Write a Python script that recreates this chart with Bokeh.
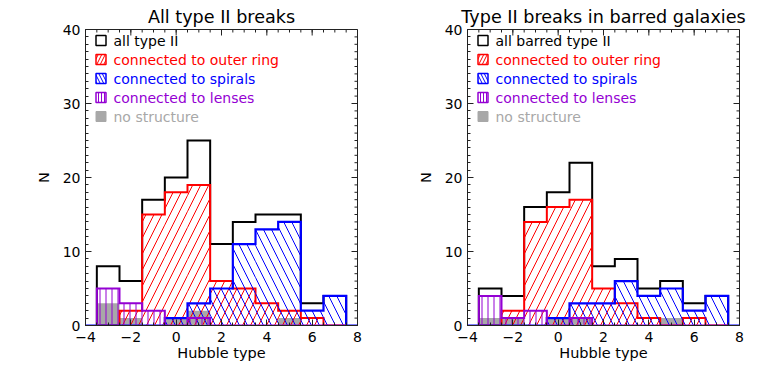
from bokeh.plotting import figure
from bokeh.layouts import row
from bokeh.models import Range1d, FixedTicker
from bokeh.embed import file_html
from bokeh.resources import INLINE
from bokeh.core.properties import value

# ---------------- data ----------------
hubble_type = [-3, -2, -1, 0, 1, 2, 3, 4, 5, 6, 7]
bin_width = 1.0

all_left = [8, 6, 17, 20, 25, 11, 14, 15, 15, 3, 4]
ring_left = [0, 2, 15, 18, 19, 6, 5, 3, 2, 1, 0]
spiral_left = [0, 0, 0, 1, 3, 5, 11, 13, 14, 2, 4]
lens_left = [5, 3, 2, 0, 1, 0, 0, 0, 0, 0, 0]
none_left = [3, 1, 0, 1, 2, 0, 0, 0, 1, 0, 0]

all_right = [5, 4, 16, 18, 22, 8, 9, 5, 6, 3, 4]
ring_right = [0, 2, 14, 16, 17, 5, 3, 1, 0, 1, 0]
spiral_right = [0, 0, 0, 1, 3, 3, 6, 4, 5, 2, 4]
lens_right = [4, 1, 2, 0, 1, 0, 0, 0, 0, 0, 0]
none_right = [1, 1, 0, 1, 1, 0, 0, 0, 1, 0, 0]

x_ticks = [-4, -2, 0, 2, 4, 6, 8]
x_minor = [-4 + 0.5 * i for i in range(25)]
y_ticks = [0, 10, 20, 30, 40]
y_minor = list(range(0, 41))

titles = ["All type II breaks", "Type II breaks in barred galaxies"]
legend_left = ["all type II", "connected to outer ring", "connected to spirals",
               "connected to lenses", "no structure"]
legend_right = ["all barred type II", "connected to outer ring", "connected to spirals",
                "connected to lenses", "no structure"]

# ---------------- style ----------------
FONT = "DejaVu Sans"
RED = "#ff0000"
BLUE = "#0000ff"
PURPLE = "#9400d3"
GRAY = "#a8a8a8"
XR = (-4, 8)
YR = (0, 40)
FW, FH = 272, 296
MAJ_LEN, MIN_LEN = 6, 3


def step_outline(centers, counts, x_from=None, x_to=None):
    edges = [c - bin_width / 2 for c in centers] + [centers[-1] + bin_width / 2]
    xs, ys = [edges[0]], [0]
    for i, c in enumerate(counts):
        xs += [edges[i], edges[i + 1]]
        ys += [c, c]
    xs.append(edges[-1])
    ys.append(0)
    if x_from is not None:
        xs.insert(0, x_from)
        ys.insert(0, 0)
    if x_to is not None:
        xs.append(x_to)
        ys.append(0)
    return xs, ys


def style_axis(ax, ticker):
    ax.ticker = ticker
    ax.axis_line_color = "#222222"
    ax.axis_line_width = 1
    ax.major_tick_in = MAJ_LEN
    ax.major_tick_out = 0
    ax.minor_tick_in = MIN_LEN
    ax.minor_tick_out = 0
    ax.major_tick_line_color = "#222222"
    ax.minor_tick_line_color = "#222222"
    ax.major_label_text_font = FONT
    ax.major_label_text_color = "black"
    ax.major_label_text_font_size = "14px"
    ax.axis_label_text_font = FONT
    ax.axis_label_text_font_style = "normal"
    ax.axis_label_text_color = "black"
    ax.axis_label_text_font_size = "14.5px"


def make_panel(title, legend_labels, all_c, ring_c, spiral_c, lens_c, none_c, b_left, b_right):
    p = figure(frame_width=FW, frame_height=FH,
               x_range=Range1d(*XR), y_range=Range1d(*YR),
               output_backend="svg", toolbar_location=None,
               min_border_left=b_left, min_border_right=b_right,
               min_border_top=29, min_border_bottom=49, title=title)
    p.title.text_font = FONT
    p.title.text_font_size = "17.6px"
    p.title.text_font_style = "normal"
    p.title.text_color = "black"
    p.title.align = "center"
    p.title.standoff = 6
    p.grid.visible = False
    p.outline_line_color = "#222222"
    p.outline_line_width = 1
    p.background_fill_color = "white"
    p.border_fill_color = "white"

    style_axis(p.xaxis[0], FixedTicker(ticks=x_ticks, minor_ticks=x_minor))
    p.xaxis[0].axis_label = "Hubble type"
    p.xaxis[0].major_label_standoff = 6
    p.xaxis[0].axis_label_standoff = 0
    style_axis(p.yaxis[0], FixedTicker(ticks=y_ticks, minor_ticks=y_minor))
    p.yaxis[0].axis_label = "N"
    p.yaxis[0].major_label_standoff = 5
    p.yaxis[0].axis_label_standoff = 8

    ux = (XR[1] - XR[0]) / FW
    uy = (YR[1] - YR[0]) / FH

    # tick marks on the top and right sides of the box (inward)
    p.segment(x0=x_ticks, y0=YR[1], x1=x_ticks, y1=YR[1] - MAJ_LEN * uy, line_color="#222222", line_width=1)
    p.segment(x0=x_minor, y0=YR[1], x1=x_minor, y1=YR[1] - MIN_LEN * uy, line_color="#222222", line_width=1)
    p.segment(x0=XR[1], y0=y_ticks, x1=XR[1] - MAJ_LEN * ux, y1=y_ticks, line_color="#222222", line_width=1)
    p.segment(x0=XR[1], y0=y_minor, x1=XR[1] - MIN_LEN * ux, y1=y_minor, line_color="#222222", line_width=1)

    lefts = [c - bin_width / 2 for c in hubble_type]
    rights = [c + bin_width / 2 for c in hubble_type]

    # no structure (filled gray)
    p.quad(left=lefts, right=rights, bottom=0, top=none_c, fill_color=GRAY, line_color=None)
    # all type II (open outline)
    xs, ys = step_outline(hubble_type, all_c)
    p.line(xs, ys, line_color="black", line_width=2, line_join="miter")
    # outer ring
    p.quad(left=lefts, right=rights, bottom=0, top=ring_c, fill_color=None, line_color=None,
           hatch_pattern="/", hatch_color=RED, hatch_scale=16, hatch_weight=1)
    xs, ys = step_outline(hubble_type, ring_c)
    p.line(xs, ys, line_color=RED, line_width=2, line_join="miter")
    # spirals
    p.quad(left=lefts, right=rights, bottom=0, top=spiral_c, fill_color=None, line_color=None,
           hatch_pattern="\\", hatch_color=BLUE, hatch_scale=16, hatch_weight=1)
    xs, ys = step_outline(hubble_type, spiral_c, XR[0], XR[1])
    p.line(xs, ys, line_color=BLUE, line_width=2.2, line_join="miter")
    # lenses
    p.quad(left=lefts, right=rights, bottom=0, top=lens_c, fill_color=None, line_color=None,
           hatch_pattern="|", hatch_color=PURPLE, hatch_scale=6, hatch_weight=1)
    xs, ys = step_outline(hubble_type, lens_c)
    p.line(xs, ys, line_color=PURPLE, line_width=2, line_join="miter")

    # legend (layout given in pixels from the frame's top-left corner)
    sw_l = XR[0] + 10.5 * ux
    sw_r = XR[0] + 20.5 * ux
    tx = XR[0] + 28 * ux
    rows_y = [YR[1] - (11 + 19 * i) * uy for i in range(5)]
    half = 5 * uy
    colors = ["black", RED, BLUE, PURPLE, GRAY]
    p.quad(left=sw_l, right=sw_r, bottom=rows_y[0] - half, top=rows_y[0] + half,
           fill_color=None, line_color="black", line_width=1.5)
    p.quad(left=sw_l, right=sw_r, bottom=rows_y[1] - half, top=rows_y[1] + half,
           fill_color=None, line_color=RED, line_width=1.5,
           hatch_pattern="/", hatch_color=RED, hatch_scale=7, hatch_weight=1)
    p.quad(left=sw_l, right=sw_r, bottom=rows_y[2] - half, top=rows_y[2] + half,
           fill_color=None, line_color=BLUE, line_width=1.5,
           hatch_pattern="\\", hatch_color=BLUE, hatch_scale=7, hatch_weight=1)
    p.quad(left=sw_l, right=sw_r, bottom=rows_y[3] - half, top=rows_y[3] + half,
           fill_color=None, line_color=PURPLE, line_width=1.5,
           hatch_pattern="|", hatch_color=PURPLE, hatch_scale=3, hatch_weight=1)
    p.quad(left=sw_l, right=sw_r, bottom=rows_y[4] - half, top=rows_y[4] + half,
           fill_color=GRAY, line_color=GRAY, line_width=1)
    p.text(x=[tx] * 5, y=rows_y, text=legend_labels, text_color=colors,
           text_font=value(FONT), text_font_size="14px", text_baseline="middle",
           text_align="left")
    return p


p1 = make_panel(titles[0], legend_left, all_left, ring_left, spiral_left, lens_left, none_left, 85, 25)
p2 = make_panel(titles[1], legend_right, all_right, ring_right, spiral_right, lens_right, none_right, 85, 18)

layout = row(p1, p2)
open("out.html", "w").write(file_html(layout, INLINE))
